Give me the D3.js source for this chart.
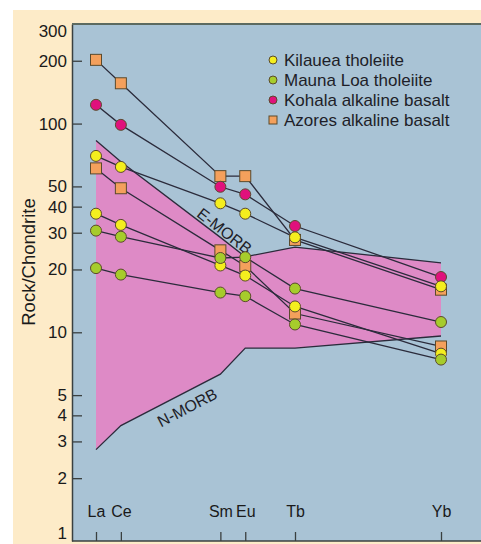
<!DOCTYPE html>
<html>
<head>
<meta charset="utf-8">
<script src="https://cdn.jsdelivr.net/npm/d3@7"></script>
<style>
  html, body { margin: 0; padding: 0; background: #fff; }
  svg { display: block; font-family: "Liberation Sans", Arial, sans-serif; }
</style>
</head>
<body>
<svg id="canvas"></svg>
<script>
// REE elements and their atomic numbers (x position follows the atomic number)
const elements = ["La", "Ce", "Sm", "Eu", "Tb", "Yb"];
const atomicNumbers = [57, 58, 62, 63, 65, 70];

// chondrite-normalised values
const kilaueaA = [70, 62, 41.5, 37, 28.5, 16.6];
const kilaueaB = [37, 32.7, 20.9, 18.7, 13.3, 7.9];
const maunaLoaA = [30.7, 28.7, 22.7, 22.9, 16.2, 11.2];
const maunaLoaB = [20.3, 18.9, 15.5, 14.9, 10.9, 7.4];
const kohala = [123, 98.6, 49.8, 45.8, 32.3, 18.4];
const azoresA = [202, 156, 56, 56, 27.7, 16.0];
const azoresB = [61, 49, 24.7, 20.8, 12.3, 8.55];

// MORB field limits
const eMorb = [83, 65.6, 28.5, 23, 25.6, 21.5];
const nMorb = [2.74, 3.57, 6.3, 8.4, 8.4, 9.6];

const yTicks = [1, 2, 3, 4, 5, 10, 20, 30, 40, 50, 100, 200, 300];

const legendNames = ["Kilauea tholeiite", "Mauna Loa tholeiite", "Kohala alkaline basalt", "Azores alkaline basalt"];

// layout
const width = 481;
const height = 544;
const plot = { left: 72, top: 24, right: 481, bottom: 541 };

const colors = {
  kilauea: "#f4ee1e",
  maunaLoa: "#a6cc2c",
  kohala: "#e0117c",
  azores: "#f4a05c",
  pink: "#de8ac6",
  blue: "#a9c3d5",
  beige: "#fdebc8",
  line: "#2b2b3b",
  stroke: "#5b4a2c"
};

let canvas = d3.select("#canvas")
  .attr("width", width)
  .attr("height", height);

let xScale = d3.scaleLinear()
  .domain([57, 65, 70])
  .range([96, 295, 441]);

let yScale = d3.scaleLog()
  .domain([1, 300])
  .range([plot.bottom, plot.top]);

// backgrounds
canvas.append("rect")
  .attr("x", 13).attr("y", 10)
  .attr("width", width - 13).attr("height", height - 10)
  .attr("fill", colors.beige);

canvas.append("rect")
  .attr("x", plot.left).attr("y", plot.top)
  .attr("width", plot.right - plot.left).attr("height", plot.bottom - plot.top)
  .attr("fill", colors.blue);

// MORB field
let fieldPoints = [];
atomicNumbers.forEach((z, i) => fieldPoints.push([xScale(z), yScale(eMorb[i])]));
for (let i = atomicNumbers.length - 1; i >= 0; i--) {
  fieldPoints.push([xScale(atomicNumbers[i]), yScale(nMorb[i])]);
}
canvas.append("path")
  .attr("d", d3.line()(fieldPoints) + "Z")
  .attr("fill", colors.pink);

let lineGen = d3.line()
  .x((d, i) => xScale(atomicNumbers[i]))
  .y(d => yScale(d));

[eMorb, nMorb].forEach(vals => {
  canvas.append("path")
    .attr("d", lineGen(vals))
    .attr("fill", "none")
    .attr("stroke", colors.line)
    .attr("stroke-width", 1.3);
});

// field labels, rotated along the field edge
let labelAt = (text, i0, i1, vals, t, offset) => {
  let x0 = xScale(atomicNumbers[i0]), y0 = yScale(vals[i0]);
  let x1 = xScale(atomicNumbers[i1]), y1 = yScale(vals[i1]);
  let ang = Math.atan2(y1 - y0, x1 - x0);
  let cx = x0 + (x1 - x0) * t - Math.sin(ang) * offset;
  let cy = y0 + (y1 - y0) * t + Math.cos(ang) * offset;
  canvas.append("text")
    .attr("transform", `translate(${cx},${cy}) rotate(${ang * 180 / Math.PI})`)
    .attr("text-anchor", "middle")
    .attr("font-size", 16)
    .attr("fill", "#1e1e28")
    .text(text);
};
labelAt("E-MORB", 0, 3, eMorb, 0.83, -2);
labelAt("N-MORB", 1, 2, nMorb, 0.6, 20);

// sample series
let series = [
  { vals: azoresA, color: colors.azores, shape: "square" },
  { vals: azoresB, color: colors.azores, shape: "square" },
  { vals: kohala, color: colors.kohala, shape: "circle" },
  { vals: kilaueaA, color: colors.kilauea, shape: "circle" },
  { vals: kilaueaB, color: colors.kilauea, shape: "circle" },
  { vals: maunaLoaA, color: colors.maunaLoa, shape: "circle" },
  { vals: maunaLoaB, color: colors.maunaLoa, shape: "circle" }
];

series.forEach(s => {
  canvas.append("path")
    .attr("d", lineGen(s.vals))
    .attr("fill", "none")
    .attr("stroke", colors.line)
    .attr("stroke-width", 1.3);
});

let drawMarker = (g, shape, color, x, y, size) => {
  if (shape === "square") {
    g.append("rect")
      .attr("x", x - size).attr("y", y - size)
      .attr("width", size * 2).attr("height", size * 2)
      .attr("fill", color)
      .attr("stroke", colors.stroke)
      .attr("stroke-width", 1);
  } else {
    g.append("circle")
      .attr("cx", x).attr("cy", y).attr("r", size)
      .attr("fill", color)
      .attr("stroke", colors.stroke)
      .attr("stroke-width", 1);
  }
};

series.forEach(s => {
  s.vals.forEach((v, i) => {
    drawMarker(canvas, s.shape, s.color, xScale(atomicNumbers[i]), yScale(v), 5.5);
  });
});

// axes
let yAxis = d3.axisLeft(yScale)
  .tickValues(yTicks)
  .tickFormat(d3.format("d"))
  .tickSizeInner(-10)
  .tickSizeOuter(0)
  .tickPadding(5);

let yAxisG = canvas.append("g")
  .attr("transform", `translate(${plot.left},0)`)
  .call(yAxis);
yAxisG.select(".domain").attr("stroke", "#3a4040").attr("stroke-width", 1.5);
yAxisG.selectAll(".tick line").attr("stroke", "#3a4040").attr("stroke-width", 1.3);
yAxisG.selectAll(".tick").filter(d => d === 300 || d === 1).select("line").remove();
yAxisG.selectAll("text")
  .attr("font-size", 17)
  .attr("font-family", "Liberation Sans, Arial, sans-serif")
  .attr("fill", "#1a1a1a");
// edge labels sit just inside the frame
yAxisG.selectAll(".tick").filter(d => d === 300).select("text").attr("dy", "0.72em");
yAxisG.selectAll(".tick").filter(d => d === 1).select("text").attr("dy", "-0.15em");

let xAxis = d3.axisBottom(xScale)
  .tickValues(atomicNumbers)
  .tickFormat((d, i) => elements[i])
  .tickSizeInner(-9)
  .tickSizeOuter(0)
  .tickPadding(14);

let xAxisG = canvas.append("g")
  .attr("transform", `translate(0,${plot.bottom})`)
  .call(xAxis);
xAxisG.select(".domain").remove();
xAxisG.selectAll(".tick line").attr("stroke", "#3a4040").attr("stroke-width", 1.3);
xAxisG.selectAll("text")
  .attr("y", -35)
  .attr("font-size", 16)
  .attr("font-family", "Liberation Sans, Arial, sans-serif")
  .attr("fill", "#1a1a1a");

// frame lines
canvas.append("line")
  .attr("x1", plot.left).attr("x2", plot.right)
  .attr("y1", plot.bottom).attr("y2", plot.bottom)
  .attr("stroke", "#3a4040").attr("stroke-width", 1.5);
canvas.append("line")
  .attr("x1", plot.left).attr("x2", plot.right)
  .attr("y1", plot.top).attr("y2", plot.top)
  .attr("stroke", "#5c6a60").attr("stroke-width", 2);

// axis title
canvas.append("text")
  .attr("transform", `translate(35,262) rotate(-90)`)
  .attr("text-anchor", "middle")
  .attr("font-size", 18.5)
  .attr("fill", "#1a1a1a")
  .text("Rock/Chondrite");

// legend
let legendColors = [colors.kilauea, colors.maunaLoa, colors.kohala, colors.azores];
let legendShapes = ["circle", "circle", "circle", "square"];
let legend = canvas.append("g");
legendNames.forEach((name, i) => {
  let y = 59 + i * 20;
  drawMarker(legend, legendShapes[i], legendColors[i], 273, y + 1, 4);
  legend.append("text")
    .attr("x", 284).attr("y", y + 6.5)
    .attr("font-size", 17)
    .attr("fill", "#1e1e28")
    .text(name);
});
</script>
</body>
</html>
